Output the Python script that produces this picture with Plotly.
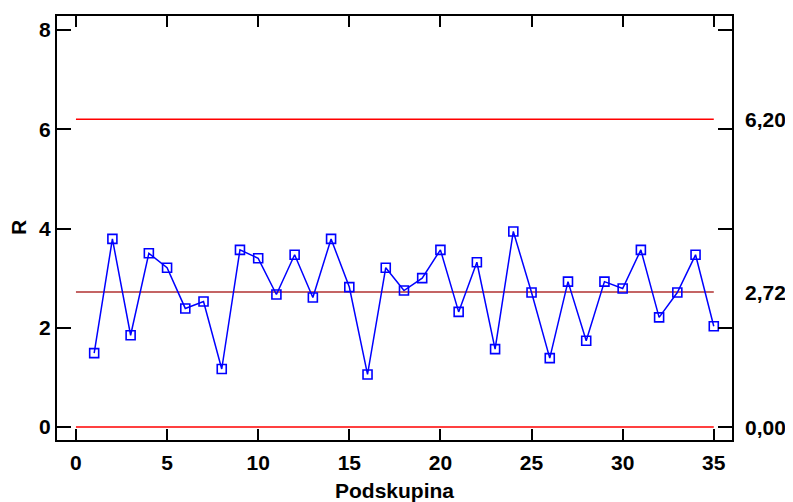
import plotly.graph_objects as go

subgroups = list(range(1, 36))
r_values = [1.49, 3.79, 1.85, 3.50, 3.21, 2.39, 2.53, 1.17, 3.57, 3.40,
            2.67, 3.47, 2.61, 3.79, 2.82, 1.06, 3.21, 2.75, 3.00, 3.57,
            2.32, 3.32, 1.57, 3.94, 2.71, 1.39, 2.93, 1.74, 2.93, 2.79,
            3.57, 2.21, 2.71, 3.47, 2.03]
ucl = 6.20
center = 2.72
lcl = 0.00
limit_labels = ["6,20", "2,72", "0,00"]
x_ticks = [0, 5, 10, 15, 20, 25, 30, 35]
y_ticks = [0, 2, 4, 6, 8]

FONT = "Liberation Sans, Arial, sans-serif"
FS = 21

fig = go.Figure()
line_x = [0, 35]
fig.add_trace(go.Scatter(x=line_x, y=[ucl, ucl], mode="lines",
                         line=dict(color="#FF0000", width=1.5), hoverinfo="skip"))
fig.add_trace(go.Scatter(x=line_x, y=[lcl, lcl], mode="lines",
                         line=dict(color="#FF0000", width=1.5), hoverinfo="skip"))
fig.add_trace(go.Scatter(x=line_x, y=[center, center], mode="lines",
                         line=dict(color="#B03030", width=1.5), hoverinfo="skip"))
fig.add_trace(go.Scatter(x=subgroups, y=r_values, mode="lines+markers",
                         line=dict(color="#0000FF", width=1.5),
                         marker=dict(symbol="square-open", size=9, color="#0000FF",
                                     line=dict(width=1.6, color="#0000FF"))))

for val, lab in zip([ucl, center, lcl], limit_labels):
    fig.add_annotation(x=1, xref="paper", y=val, yref="y", text=lab,
                       showarrow=False, xanchor="left", xshift=11,
                       font=dict(family=FONT, size=FS, color="black", weight="bold"))

fig.add_annotation(x=0.5, xref="paper", y=0, yref="paper", text="Podskupina",
                   showarrow=False, xanchor="center", yanchor="middle", yshift=-50,
                   font=dict(family=FONT, size=FS, color="black", weight="bold"))
fig.add_annotation(x=0, xref="paper", y=0.5, yref="paper", text="R", textangle=-90,
                   showarrow=False, xanchor="center", yanchor="middle", xshift=-39,
                   font=dict(family=FONT, size=FS, color="black", weight="bold"))

fig.update_layout(
    width=785, height=494,
    margin=dict(l=49, r=61, t=8, b=62),
    paper_bgcolor="white", plot_bgcolor="white",
    showlegend=False,
    xaxis=dict(range=[-1.04, 36.0], tickvals=x_ticks, ticks="inside", ticklen=11,
               tickwidth=2, tickcolor="black", showline=True, linecolor="black",
               linewidth=2, mirror="ticks", showgrid=False, zeroline=False,
               automargin=False,
               tickfont=dict(family=FONT, size=FS, color="black", weight="bold"),
               ticklabelstandoff=3),
    yaxis=dict(range=[-0.26, 8.28], tickvals=y_ticks, ticks="inside", ticklen=14,
               tickwidth=2, tickcolor="black", showline=True, linecolor="black",
               linewidth=2, mirror="ticks", showgrid=False, zeroline=False,
               automargin=False,
               tickfont=dict(family=FONT, size=FS, color="black", weight="bold"),
               ticklabelstandoff=0),
)

fig.write_html("out.html")
